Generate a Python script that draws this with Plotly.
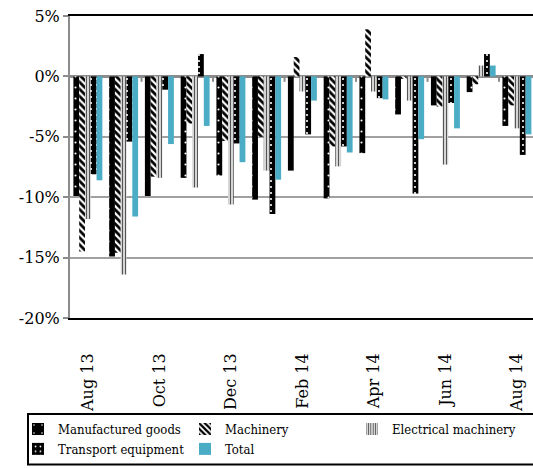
import plotly.graph_objects as go

months = ["Aug 13", "Sep 13", "Oct 13", "Nov 13", "Dec 13", "Jan 14", "Feb 14",
          "Mar 14", "Apr 14", "May 14", "Jun 14", "Jul 14", "Aug 14"]
shown_months = ["Aug 13", "Oct 13", "Dec 13", "Feb 14", "Apr 14", "Jun 14", "Aug 14"]

manufactured = [-9.9, -14.9, -9.9, -8.4, -8.2, -10.2, -7.8, -10.1, -6.35, -3.15, -2.4, -1.3, -4.1]
machinery = [-14.5, -14.6, -8.3, -3.9, -5.35, -5.0, 1.6, -5.8, 3.9, -0.2, -2.5, -0.65, -2.4]
electrical = [-11.8, -16.4, -8.4, -9.2, -10.6, -7.8, -1.25, -7.45, -1.25, -2.0, -7.3, 0.9, -4.3]
transport = [-8.1, -5.4, -1.1, 1.85, -5.55, -11.4, -4.8, -5.8, -1.8, -9.7, -2.2, 1.85, -6.5]
total = [-8.6, -11.6, -5.6, -4.1, -7.1, -8.55, -2.0, -6.3, -1.9, -5.2, -4.3, 0.9, -4.8]

y_tick_vals = [5, 0, -5, -10, -15, -20]
y_tick_text = ["5%", "0%", "-5%", "-10%", "-15%", "-20%"]

FONT = "'DejaVu Serif', serif"
LEGEND_FONT = "'DejaVu Serif Condensed', 'DejaVu Serif', serif"

fig = go.Figure()
fig.add_bar(x=months, y=manufactured, name="Manufactured goods",
            marker=dict(color="black", line=dict(width=0),
                        pattern=dict(shape=".", bgcolor="black", fgcolor="white",
                                     size=11, solidity=0.03, fillmode="replace")))
fig.add_bar(x=months, y=machinery, name="Machinery",
            marker=dict(color="white", line=dict(width=0),
                        pattern=dict(shape="\\", bgcolor="white", fgcolor="black",
                                     size=5, solidity=0.55, fillmode="replace")))
fig.add_bar(x=months, y=electrical, name="Electrical machinery",
            marker=dict(color="white", line=dict(width=0),
                        pattern=dict(shape="|", bgcolor="white", fgcolor="#555555",
                                     size=3, solidity=0.5, fillmode="replace")))
fig.add_bar(x=months, y=transport, name="Transport equipment",
            marker=dict(color="black", line=dict(width=0),
                        pattern=dict(shape=".", bgcolor="black", fgcolor="white",
                                     size=6, solidity=0.1, fillmode="replace")))
fig.add_bar(x=months, y=total, name="Total",
            marker=dict(color="#4BACC6", line=dict(width=0)))

# category-boundary tick marks on the zero axis (every second month)
for i in range(1, len(months) - 1, 2):
    fig.add_shape(type="line", xref="x", yref="y", x0=i + 0.5, x1=i + 0.5,
                  y0=0, y1=-0.45, line=dict(color="#8c8c8c", width=2), layer="above")

# legend frame
fig.add_shape(type="rect", xref="paper", yref="paper",
              x0=-0.0907, x1=1.0065, y0=-0.485, y1=-0.318,
              line=dict(color="black", width=2), fillcolor="rgba(0,0,0,0)", layer="above")

fig.update_layout(
    width=533, height=468,
    margin=dict(l=70, r=0, t=16, b=150, autoexpand=False),
    paper_bgcolor="white", plot_bgcolor="white",
    barmode="group", bargap=0.19, bargroupgap=0,
    font=dict(family=FONT, color="black"),
    showlegend=True,
    legend=dict(orientation="h", x=-0.1123, y=-0.318, xanchor="left", yanchor="top",
                font=dict(family=LEGEND_FONT, size=13, color="black"),
                borderwidth=0, bgcolor="rgba(0,0,0,0)",
                entrywidth=122, entrywidthmode="pixels", itemwidth=30,
                traceorder="normal"),
)
fig.update_xaxes(
    type="category", categoryorder="array", categoryarray=months,
    range=[-0.5, 12.45], automargin=False,
    tickmode="array", tickvals=shown_months, ticktext=shown_months,
    tickangle=-90, tickfont=dict(family=FONT, size=16, color="black"),
    ticks="", ticklabelstandoff=27,
    showgrid=False, showline=True, linecolor="black", linewidth=2, mirror=True,
    zeroline=False,
)
fig.update_yaxes(
    range=[-20, 5], automargin=False,
    tickmode="array", tickvals=y_tick_vals, ticktext=y_tick_text,
    tickfont=dict(family=FONT, size=16, color="black"),
    ticks="outside", ticklen=5, tickcolor="#8c8c8c", tickwidth=2,
    showgrid=True, gridcolor="#a0a0a0", gridwidth=2,
    zeroline=True, zerolinecolor="#8c8c8c", zerolinewidth=3,
    showline=True, linecolor="#8c8c8c", linewidth=2, mirror=False,
)

fig.write_html("out.html", config={"displayModeBar": False},
               post_script="document.body.style.margin='0px';document.body.style.padding='0px';")
